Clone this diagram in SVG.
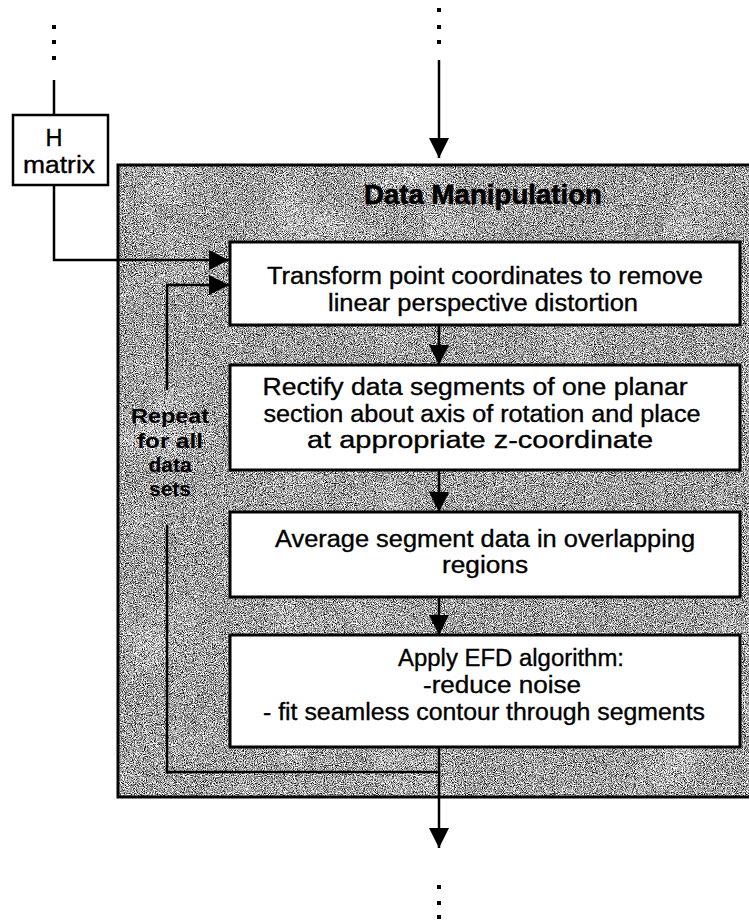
<svg xmlns="http://www.w3.org/2000/svg" width="749" height="922" viewBox="0 0 749 922">
  <defs>
    <style>
      .box { fill: #ffffff; stroke: #000000; stroke-width: 3; }
      .hbox { fill: #ffffff; stroke: #000000; stroke-width: 2.5; }
      .wire { fill: none; stroke: #000000; stroke-width: 2.5; }
      .txt { font-family: "Liberation Sans", Arial, sans-serif; font-size: 23.5px; fill: #000000; stroke: #000000; stroke-width: 0.35; }
      .title { font-family: "Liberation Sans", Arial, sans-serif; font-size: 27px; font-weight: bold; fill: #000000; stroke: #000000; stroke-width: 0.6; }
      .side { font-family: "Liberation Sans", Arial, sans-serif; font-size: 21px; font-weight: bold; fill: #000000; }
      .dot { fill: #000000; }
    </style>
    <marker id="head" markerUnits="userSpaceOnUse" markerWidth="22" markerHeight="20" viewBox="0 0 22 20" refX="20" refY="10" orient="auto">
      <path d="M0,0 L20,10 L0,20 Z" fill="#000000"/>
    </marker>
    <!-- speckled grey fill for the processing panel -->
    <filter id="grain" x="0" y="0" width="100%" height="100%" color-interpolation-filters="sRGB">
      <feTurbulence type="fractalNoise" baseFrequency="1.1" numOctaves="1" seed="7" result="fine"/>
      <feColorMatrix in="fine" type="matrix" values="1.7 1.7 1.7 0 -1.92  1.7 1.7 1.7 0 -1.92  1.7 1.7 1.7 0 -1.92  0 0 0 0 1" result="fineGrey"/>
      <feTurbulence type="fractalNoise" baseFrequency="0.015" numOctaves="2" seed="3" result="coarse"/>
      <feColorMatrix in="coarse" type="matrix" values="0.25 0.25 0 0 -0.25  0.25 0.25 0 0 -0.25  0.25 0.25 0 0 -0.25  0 0 0 0 1" result="coarseGrey"/>
      <feComposite in="fineGrey" in2="coarseGrey" operator="arithmetic" k1="0" k2="1" k3="1" k4="0"/>
    </filter>
  </defs>

  <!-- processing panel -->
  <g id="panel">
    <rect x="118" y="165" width="650" height="632" fill="#a0a0a0" filter="url(#grain)"/>
    <rect x="118" y="165" width="650" height="632" fill="none" stroke="#000000" stroke-width="3"/>
    <text class="title" x="483" y="204" text-anchor="middle" textLength="238" lengthAdjust="spacingAndGlyphs">Data Manipulation</text>
  </g>

  <!-- continuation dots -->
  <g id="dots">
    <rect class="dot" x="52" y="25" width="4" height="4"/>
    <rect class="dot" x="52" y="40" width="4" height="4"/>
    <rect class="dot" x="52" y="56" width="4" height="4"/>
    <rect class="dot" x="437" y="8" width="4" height="4"/>
    <rect class="dot" x="437" y="25" width="4" height="4"/>
    <rect class="dot" x="437" y="40" width="4" height="4"/>
    <rect class="dot" x="437" y="885" width="4" height="4"/>
    <rect class="dot" x="437" y="901" width="4" height="4"/>
    <rect class="dot" x="437" y="915" width="4" height="4"/>
  </g>

  <!-- connectors -->
  <g id="connectors">
    <line class="wire" x1="54" y1="80" x2="54" y2="115"/>
    <line class="wire" x1="439" y1="60" x2="439" y2="158" marker-end="url(#head)"/>
    <polyline class="wire" points="54,185 54,260 229,260" marker-end="url(#head)"/>
    <polyline class="wire" points="167,390 167,285 229,285" marker-end="url(#head)"/>
    <polyline class="wire" points="167,525 167,772 439,772"/>
    <line class="wire" x1="439" y1="325" x2="439" y2="365" marker-end="url(#head)"/>
    <line class="wire" x1="439" y1="470" x2="439" y2="512" marker-end="url(#head)"/>
    <line class="wire" x1="439" y1="597" x2="439" y2="635" marker-end="url(#head)"/>
    <line class="wire" x1="439" y1="747" x2="439" y2="848" marker-end="url(#head)"/>
  </g>

  <g id="repeat-label">
    <text class="side" x="170" y="423" text-anchor="middle" textLength="78" lengthAdjust="spacingAndGlyphs">Repeat</text>
    <text class="side" x="170" y="448" text-anchor="middle" textLength="66" lengthAdjust="spacingAndGlyphs">for all</text>
    <text class="side" x="170" y="472" text-anchor="middle">data</text>
    <text class="side" x="170" y="496" text-anchor="middle">sets</text>
  </g>

  <g id="h-matrix">
    <rect class="hbox" x="13" y="115" width="95" height="70"/>
    <text class="txt" x="54" y="146" text-anchor="middle">H</text>
    <text class="txt" x="59" y="173" text-anchor="middle" textLength="72" lengthAdjust="spacingAndGlyphs">matrix</text>
  </g>

  <g id="transform">
    <rect class="box" x="230" y="242" width="510" height="83"/>
    <text class="txt" x="485" y="284" text-anchor="middle" textLength="436" lengthAdjust="spacingAndGlyphs">Transform point coordinates to remove</text>
    <text class="txt" x="483" y="311" text-anchor="middle" textLength="310" lengthAdjust="spacingAndGlyphs">linear perspective distortion</text>
  </g>

  <g id="rectify">
    <rect class="box" x="230" y="365" width="510" height="105"/>
    <text class="txt" x="475" y="395" text-anchor="middle" textLength="425" lengthAdjust="spacingAndGlyphs">Rectify data segments of one planar</text>
    <text class="txt" x="482" y="422" text-anchor="middle" textLength="437" lengthAdjust="spacingAndGlyphs">section about axis of rotation and place</text>
    <text class="txt" x="480" y="448" text-anchor="middle" textLength="346" lengthAdjust="spacingAndGlyphs">at appropriate z-coordinate</text>
  </g>

  <g id="average">
    <rect class="box" x="230" y="512" width="510" height="85"/>
    <text class="txt" x="485" y="547" text-anchor="middle" textLength="420" lengthAdjust="spacingAndGlyphs">Average segment data in overlapping</text>
    <text class="txt" x="485" y="573" text-anchor="middle" textLength="86" lengthAdjust="spacingAndGlyphs">regions</text>
  </g>

  <g id="efd">
    <rect class="box" x="230" y="635" width="510" height="112"/>
    <text class="txt" x="398" y="666" textLength="226" lengthAdjust="spacingAndGlyphs">Apply EFD algorithm:</text>
    <text class="txt" x="423" y="693" textLength="158" lengthAdjust="spacingAndGlyphs">-reduce noise</text>
    <text class="txt" x="263" y="720" textLength="442" lengthAdjust="spacingAndGlyphs">- fit seamless contour through segments</text>
  </g>
</svg>
